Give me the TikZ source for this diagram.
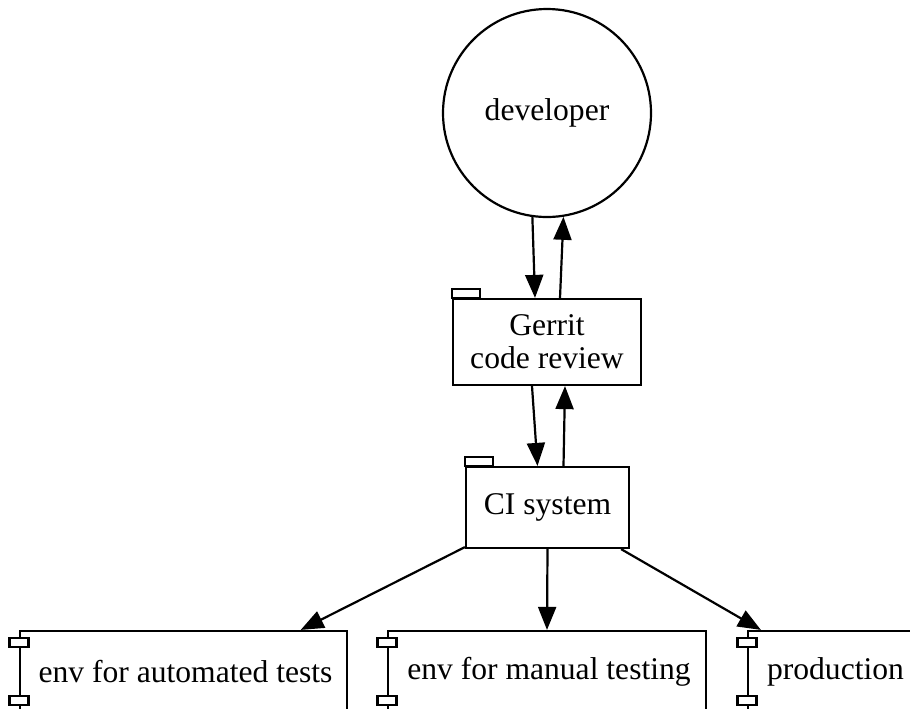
\documentclass[tikz,border=0pt]{standalone}
\usepackage{fontspec}
\setmainfont{Liberation Serif}
\usepackage{tikz}
\usetikzlibrary{arrows.meta,calc}

\tikzset{
  every node/.style={font=\fontsize{15.8}{16.5}\selectfont},
  folder/.style={draw,line width=1.1pt,rectangle,align=center,inner sep=0pt},
  comp/.style={draw,line width=1.1pt,rectangle,inner sep=0pt,minimum height=40.5pt},
  arr/.style={line width=1.1pt,-{Triangle[length=11.5pt,width=9pt]}}
}

\begin{document}
\begin{tikzpicture}[x=0.5pt,y=-0.5pt]
\clip (0,0) rectangle (910,708) ;
\node[draw,line width=1.1pt,circle,minimum size=104pt,inner sep=0pt] (dev) at (547,113) {developer} ;
\node[folder,minimum width=94pt,minimum height=43pt] (gerrit) at (547,342) {Gerrit\\code review} ;
\node[folder,minimum width=81.5pt,minimum height=40.5pt] (ci) at (547.5,507.5) {CI system} ;
\node[comp,minimum width=163.5pt] (auto) at (183.5,671.5) {\hspace*{2pt}env for automated tests} ;
\node[comp,minimum width=159pt] (manual) at (547,671.5) {\hspace*{2pt}env for manual testing} ;
\node[comp,minimum width=85.5pt] (prod) at (833.5,671.5) {\hspace*{2pt}production} ;
% folder tabs
\foreach \n in {gerrit,ci}
  \draw[line width=1.1pt] (\n.north west) rectangle ++(28,-9) ;
% component ports
\foreach \n in {auto,manual,prod} {
  \draw[line width=1.1pt,fill=white] ([shift={(-9.5,8)}]\n.north west) rectangle ++(19,9) ;
  \draw[line width=1.1pt,fill=white] ([shift={(-9.5,-17)}]\n.south west) rectangle ++(19,9) ;
}
% edges
\draw[arr] (dev.-98) -- ([xshift=-6pt]gerrit.north) ;
\draw[arr] ([xshift=6.5pt]gerrit.north) -- (dev.-81) ;
\draw[arr] ([xshift=-7.5pt]gerrit.south) -- ([xshift=-5pt]ci.north) ;
\draw[arr] ([xshift=8pt]ci.north) -- ([xshift=9pt]gerrit.south) ;
\draw[arr] ([yshift=1pt]ci.south west) -- ($(auto.north west)!0.856!(auto.north east)$) ;
\draw[arr] (ci.south) -- (manual.north) ;
\draw[arr] ([xshift=-4.5pt]ci.south east) -- ([xshift=7pt]prod.north west) ;
\end{tikzpicture}
\end{document}
